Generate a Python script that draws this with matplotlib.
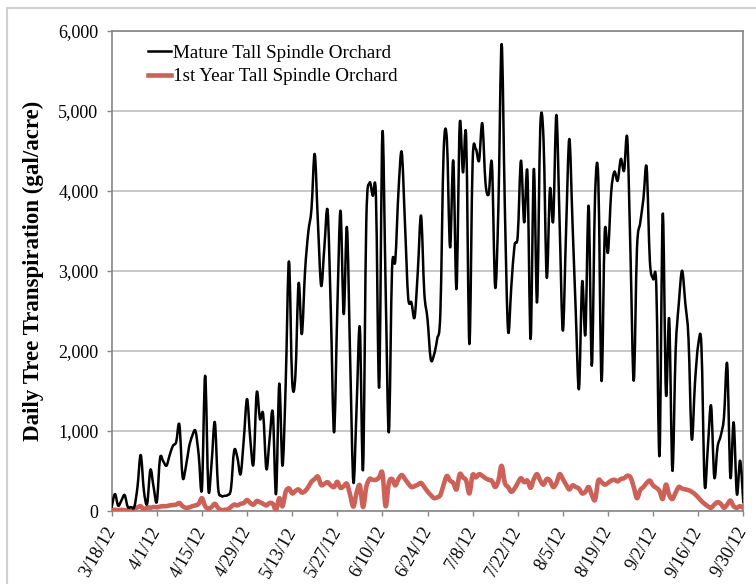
import datetime
import matplotlib
matplotlib.use('Agg')
import matplotlib.pyplot as plt
import matplotlib.dates as mdates
from matplotlib.path import Path
from matplotlib.patches import PathPatch, Rectangle
from matplotlib.lines import Line2D

### daily transpiration (gal/acre), 3/18/12 .. 9/30/12
start = datetime.date(2012, 3, 18)

mature = [
    50, 212, 66, 130, 200, 50, 50, 50, 300, 700,
    250, 90, 516, 300, 116, 660, 620, 566, 700, 816,
    860, 1080, 425, 550, 800, 940, 1000, 700, 275, 1690,
    275, 600, 1110, 300, 190, 190, 200, 275, 754, 670,
    460, 900, 1400, 900, 587, 1480, 1150, 1210, 525, 900,
    1233, 212, 1590, 566, 1600, 3120, 1630, 1690, 2846, 2212,
    3000, 3483, 3775, 4462, 3600, 2816, 3300, 3754, 2500, 983,
    2500, 3754, 2462, 3546, 1900, 358, 1300, 2296, 525, 3610,
    4100, 3942, 3933, 1546, 4733, 2800, 983, 3025, 3130, 4000,
    4487, 3600, 2671, 2608, 2421, 3000, 3691, 2733, 2400, 1900,
    1950, 2150, 2487, 4483, 4650, 3296, 4379, 2775, 4837, 4233,
    4671, 2087, 4358, 4525, 4379, 4846, 4100, 3962, 4337, 2796,
    3800, 5837, 3800, 2254, 2800, 3316, 3441, 4379, 3608, 4233,
    2150, 4275, 2608, 4796, 4650, 2921, 4025, 3629, 4950, 3600,
    2254, 3500, 4650, 3600, 2500, 1525, 2866, 2212, 3816, 1816,
    3941, 4150, 1629, 3483, 3233, 3983, 4241, 4129, 4400, 4254,
    4658, 3200, 1629, 3275, 3600, 3900, 4296, 3129, 2900, 2816,
    692, 3712, 1462, 2400, 504, 2000, 2600, 3004, 2600, 2150,
    900, 1600, 2075, 2066, 337, 800, 1316, 421, 800, 941,
    1171, 1837, 421, 1108, 212, 629, 112,
]

first_year = [
    10, 15, 10, 15, 10, 10, 15, 30, 45, 60,
    15, 45, 40, 50, 45, 55, 60, 60, 70, 75,
    80, 100, 60, 40, 45, 60, 70, 90, 160, 60,
    30, 50, 90, 40, 10, 15, 20, 50, 80, 70,
    90, 100, 137, 100, 80, 125, 110, 90, 70, 100,
    90, 15, 160, 60, 240, 283, 220, 250, 270, 230,
    250, 300, 367, 400, 430, 325, 340, 360, 320, 300,
    365, 290, 310, 340, 200, 55, 230, 320, 50, 300,
    400, 390, 390, 420, 475, 60, 350, 400, 320, 400,
    450, 400, 345, 300, 310, 330, 350, 300, 245, 200,
    162, 170, 200, 330, 437, 380, 350, 270, 460, 420,
    380, 220, 450, 420, 460, 440, 410, 390, 375, 300,
    380, 565, 350, 300, 240, 280, 350, 410, 360, 380,
    290, 400, 460, 380, 330, 400, 380, 300, 350, 460,
    400, 330, 270, 320, 300, 280, 220, 240, 300, 200,
    140, 380, 360, 330, 350, 380, 390, 370, 400, 410,
    440, 420, 300, 160, 260, 300, 350, 380, 320, 290,
    250, 150, 330, 200, 150, 230, 300, 280, 270, 260,
    240, 210, 170, 125, 90, 60, 40, 80, 110, 90,
    40, 80, 130, 60, 40, 60, 40,
]

series_names = ['Mature Tall Spindle Orchard', '1st Year Tall Spindle Orchard']
yticks = [0, 1000, 2000, 3000, 4000, 5000, 6000]

dates = [start + datetime.timedelta(days=i) for i in range(len(mature))]
xnum = mdates.date2num(dates)
tick_dates = [start + datetime.timedelta(days=14 * k) for k in range(15)]


def smooth_path(x, y):
    # excel-like smoothed line: bezier segments through every point
    verts = [(x[0], y[0])]
    codes = [Path.MOVETO]
    n = len(x)
    for i in range(n - 1):
        xa, ya = (x[i - 1], y[i - 1]) if i > 0 else (x[i], y[i])
        xb, yb = (x[i + 2], y[i + 2]) if i + 2 < n else (x[i + 1], y[i + 1])
        c1 = (x[i] + (x[i + 1] - xa) / 6., y[i] + (y[i + 1] - ya) / 6.)
        c2 = (x[i + 1] - (xb - x[i]) / 6., y[i + 1] - (yb - y[i]) / 6.)
        verts += [c1, c2, (x[i + 1], y[i + 1])]
        codes += [Path.CURVE4] * 3
    return Path(verts, codes)


plt.rcParams['font.family'] = ['Liberation Serif', 'DejaVu Serif']

fig = plt.figure(figsize=(7.56, 5.84), dpi=100)
ax = fig.add_axes([111.7 / 756, 73. / 584, (743.3 - 111.7) / 756, 480. / 584])

### chart area border
fig.add_artist(Rectangle((7. / 756, -0.05), 1.2, 576. / 584 + 0.05,
                         transform=fig.transFigure, fill=False,
                         edgecolor='#d0d0d0', lw=1.5))

red = '#cd6158'
ax.add_patch(PathPatch(smooth_path(xnum, first_year), fill=False,
                       edgecolor=red, lw=3.3, joinstyle='round', capstyle='round', zorder=3))
ax.add_patch(PathPatch(smooth_path(xnum, mature), fill=False,
                       edgecolor='black', lw=1.8, joinstyle='round', capstyle='round', zorder=4))

ax.set_xlim(xnum[0], xnum[-1])
ax.set_ylim(0, 6000)

ax.set_yticks(yticks)
ax.set_yticklabels(['{:,}'.format(v) for v in yticks])
ax.set_xticks(mdates.date2num(tick_dates))
ax.set_xticklabels(['%d/%d/%s' % (d.month, d.day, d.strftime('%y')) for d in tick_dates],
                   rotation=60, ha='right', va='center', rotation_mode='anchor')

ax.tick_params(axis='both', labelsize=13, color='#868686', length=3.6, width=1,
               direction='out')
ax.tick_params(axis='y', pad=6)
ax.tick_params(axis='x', pad=9)
ax.grid(axis='y', color='#c4c4c4', lw=1.3)
ax.set_axisbelow(True)
for s in ax.spines.values():
    s.set_color('#868686')
    s.set_linewidth(1.2)

ax.set_ylabel('Daily Tree Transpiration (gal/acre)', fontsize=16.5,
              fontweight='bold', labelpad=10)

handles = [Line2D([], [], color='black', lw=1.8),
           Line2D([], [], color=red, lw=3.3)]
ax.legend(handles, series_names, loc='upper left', bbox_to_anchor=(0.04, 0.995),
          frameon=False, fontsize=13.7, handlelength=1.2, handletextpad=0.1,
          labelspacing=0.3, borderaxespad=0.2)

plt.savefig('out.png', dpi=100)
